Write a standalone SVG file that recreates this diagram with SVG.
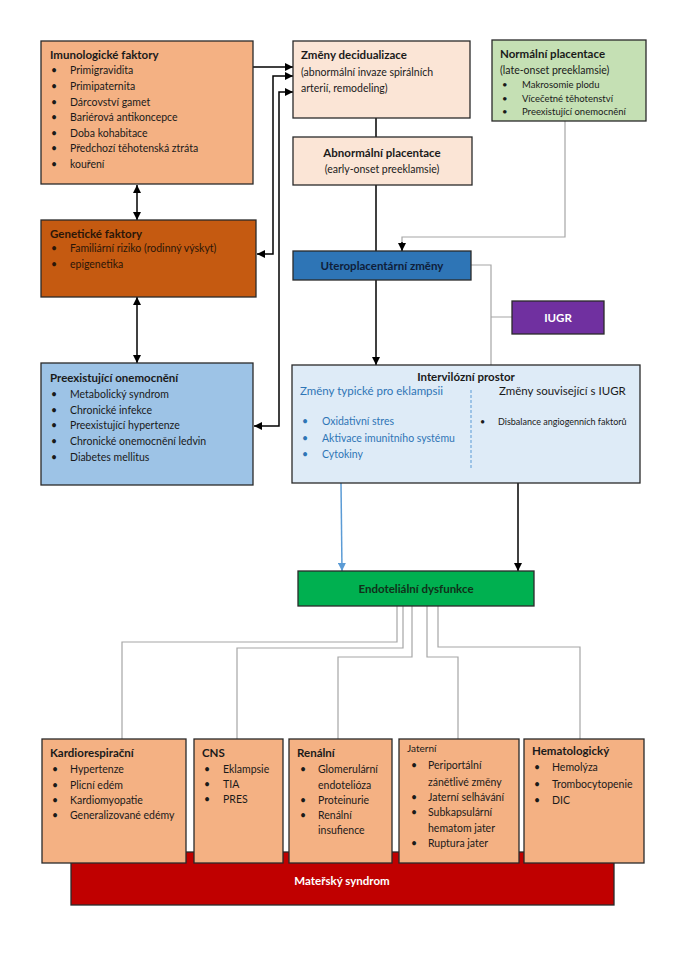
<svg xmlns="http://www.w3.org/2000/svg" width="679" height="960" viewBox="0 0 679 960">
<style>
text{font-family:Lato,"Open Sans","Liberation Sans",sans-serif;font-size:10.5px;fill:#1a1a1a}
.t{font-weight:bold;font-size:11.5px}
.box{stroke:#2a2a2a;stroke-width:1.3}
.ar{fill:none;stroke:#000;stroke-width:1.5}
.gr{fill:none;stroke:#a6a6a6;stroke-width:1.2}
.c{text-anchor:middle}
.s{font-size:9.5px}
</style>
<defs>
<marker id="a" viewBox="0 0 10 10" refX="10" refY="5" markerWidth="8" markerHeight="8" markerUnits="userSpaceOnUse" orient="auto-start-reverse"><path d="M0,0L10,5L0,10z" fill="#000"/></marker>
<marker id="ab" viewBox="0 0 10 10" refX="10" refY="5" markerWidth="8" markerHeight="8" markerUnits="userSpaceOnUse" orient="auto"><path d="M0,0L10,5L0,10z" fill="#5B9BD5"/></marker>
</defs>
<rect width="679" height="960" fill="#fff"/>

<g id="connectors">
<line class="ar" x1="253" y1="67" x2="293" y2="67" marker-end="url(#a)"/>
<path class="ar" d="M257,254H273V76H293" marker-start="url(#a)" marker-end="url(#a)"/>
<path class="ar" d="M254,426H279V92H293" marker-start="url(#a)" marker-end="url(#a)"/>
<line class="ar" x1="137" y1="185" x2="137" y2="220" marker-start="url(#a)" marker-end="url(#a)"/>
<line class="ar" x1="137" y1="297" x2="137" y2="363" marker-start="url(#a)" marker-end="url(#a)"/>
<line class="ar" x1="376" y1="118" x2="376" y2="137"/>
<line class="ar" x1="376" y1="185" x2="376" y2="251"/>
<path class="gr" d="M565,121V237H402V243"/>
<line class="ar" x1="402" y1="242" x2="402" y2="251" marker-end="url(#a)"/>
<line class="ar" x1="376" y1="280" x2="376" y2="365" marker-end="url(#a)"/>
<path class="gr" d="M471,265H491V365M491,317H512"/>
<line x1="341" y1="483" x2="342" y2="571" stroke="#5B9BD5" stroke-width="1.5" marker-end="url(#ab)"/>
<line class="ar" x1="518" y1="483" x2="518" y2="571" marker-end="url(#a)"/>
<path class="gr" d="M397,606V642H122V739"/>
<path class="gr" d="M403,606V648H237V739"/>
<path class="gr" d="M412,606V657H338V739"/>
<path class="gr" d="M427,606V657H458V739"/>
<path class="gr" d="M438,606V647H580V739"/>
</g>

<g id="imunologicke">
<rect class="box" x="41" y="41" width="212" height="143" fill="#F4B183"/>
<text class="t" x="50" y="59">Imunologické faktory</text>
<text x="51" y="74">•</text><text x="70" y="74">Primigravidita</text>
<text x="51" y="90">•</text><text x="70" y="90">Primipaternita</text>
<text x="51" y="106">•</text><text x="70" y="106">Dárcovství gamet</text>
<text x="51" y="121">•</text><text x="70" y="121">Bariérová antikoncepce</text>
<text x="51" y="137">•</text><text x="70" y="137">Doba kohabitace</text>
<text x="51" y="152">•</text><text x="70" y="152">Předchozí těhotenská ztráta</text>
<text x="51" y="168">•</text><text x="70" y="168">kouření</text>
</g>

<g id="geneticke">
<rect class="box" x="41" y="220" width="215" height="77" fill="#C55A11"/>
<text class="t" x="50" y="238" style="fill:#2b1608">Genetické faktory</text>
<text x="51" y="252" style="fill:#2b1608">•</text><text x="70" y="252" style="fill:#2b1608">Familiární riziko (rodinný výskyt)</text>
<text x="51" y="268" style="fill:#2b1608">•</text><text x="70" y="268" style="fill:#2b1608">epigenetika</text>
</g>

<g id="preexistujici">
<rect class="box" x="41" y="363" width="212" height="122" fill="#9DC3E6"/>
<text class="t" x="50" y="382">Preexistující onemocnění</text>
<text x="51" y="398">•</text><text x="70" y="398">Metabolický syndrom</text>
<text x="51" y="414">•</text><text x="70" y="414">Chronické infekce</text>
<text x="51" y="429">•</text><text x="70" y="429">Preexistující hypertenze</text>
<text x="51" y="445">•</text><text x="70" y="445">Chronické onemocnění ledvin</text>
<text x="51" y="461">•</text><text x="70" y="461">Diabetes mellitus</text>
</g>

<g id="decidualizace">
<rect class="box" x="293" y="41" width="177" height="77" fill="#FBE5D6"/>
<text class="t" x="301" y="59">Změny decidualizace</text>
<text x="301" y="76">(abnormální invaze spirálních</text>
<text x="301" y="92">arterií, remodeling)</text>
</g>

<g id="abnormalni">
<rect class="box" x="293" y="137" width="179" height="48" fill="#FBE5D6"/>
<text class="t c" x="382" y="157">Abnormální placentace</text>
<text class="c" x="382" y="173">(early-onset preeklamsie)</text>
</g>

<g id="normalni">
<rect class="box" x="492" y="40" width="154" height="81" fill="#C5E0B4"/>
<text class="t" x="500" y="58">Normální placentace</text>
<text x="500" y="74">(late-onset preeklamsie)</text>
<text class="s" x="502" y="88">•</text><text class="s" x="522" y="88">Makrosomie plodu</text>
<text class="s" x="502" y="102">•</text><text class="s" x="522" y="102">Vícečetné těhotenství</text>
<text class="s" x="502" y="115">•</text><text class="s" x="522" y="115">Preexistující onemocnění</text>
</g>

<g id="uteroplacentarni">
<rect class="box" x="293" y="251" width="178" height="29" fill="#2E75B6"/>
<text class="t c" x="382" y="270" style="fill:#0f1e3a">Uteroplacentární změny</text>
</g>

<g id="iugr">
<rect class="box" x="512" y="301" width="92" height="33" fill="#7030A0"/>
<text class="t c" x="558" y="322" style="fill:#fff">IUGR</text>
</g>

<g id="intervilozni">
<rect class="box" x="292" y="365" width="348" height="118" fill="#DEEBF7"/>
<text class="t c" x="466" y="381">Intervilózní prostor</text>
<text x="300" y="395" style="font-size:11.5px;fill:#2E75B6">Změny typické pro eklampsii</text>
<text x="499" y="395" style="font-size:11.5px">Změny související s IUGR</text>
<line x1="471" y1="390" x2="471" y2="470" stroke="#5B9BD5" stroke-width="1" stroke-dasharray="3,2"/>
<text x="302" y="425" style="fill:#2E75B6">•</text><text x="322" y="425" style="fill:#2E75B6">Oxidativní stres</text>
<text x="302" y="442" style="fill:#2E75B6">•</text><text x="322" y="442" style="fill:#2E75B6">Aktivace imunitního systému</text>
<text x="302" y="458" style="fill:#2E75B6">•</text><text x="322" y="458" style="fill:#2E75B6">Cytokiny</text>
<text x="480" y="425" style="font-size:9px">•</text><text x="498" y="425" style="font-size:9px">Disbalance angiogenních faktorů</text>
</g>

<g id="endotelialni">
<rect class="box" x="298" y="571" width="236" height="35" fill="#00B050"/>
<text class="t c" x="416" y="593" style="fill:#10301a">Endoteliální dysfunkce</text>
</g>

<g id="materinsky">
<rect class="box" x="71" y="852" width="543" height="53" fill="#C00000"/>
<text class="t c" x="342" y="885" style="fill:#fff">Mateřský syndrom</text>
</g>

<g id="kardio">
<rect class="box" x="42" y="739" width="144" height="124" fill="#F4B183"/>
<text class="t" x="50" y="757">Kardiorespirační</text>
<text x="52" y="773">•</text><text x="70" y="773">Hypertenze</text>
<text x="52" y="789">•</text><text x="70" y="789">Plicní edém</text>
<text x="52" y="804">•</text><text x="70" y="804">Kardiomyopatie</text>
<text x="52" y="819">•</text><text x="70" y="819">Generalizované edémy</text>
</g>

<g id="cns">
<rect class="box" x="194" y="739" width="89" height="124" fill="#F4B183"/>
<text class="t" x="202" y="757">CNS</text>
<text x="204" y="773">•</text><text x="223" y="773">Eklampsie</text>
<text x="204" y="788">•</text><text x="223" y="788">TIA</text>
<text x="204" y="803">•</text><text x="223" y="803">PRES</text>
</g>

<g id="renalni">
<rect class="box" x="289" y="739" width="103" height="124" fill="#F4B183"/>
<text class="t" x="297" y="757">Renální</text>
<text x="300" y="773">•</text><text x="318" y="773">Glomerulární</text>
<text x="318" y="789">endotelióza</text>
<text x="300" y="804">•</text><text x="318" y="804">Proteinurie</text>
<text x="300" y="819">•</text><text x="318" y="819">Renální</text>
<text x="318" y="834">insufience</text>
</g>

<g id="jaterni">
<rect class="box" x="399" y="739" width="120" height="124" fill="#F4B183"/>
<text x="407" y="752" style="font-size:10px">Jaterní</text>
<text x="411" y="769">•</text><text x="428" y="769">Periportální</text>
<text x="428" y="786">zánětlivé změny</text>
<text x="411" y="801">•</text><text x="428" y="801">Jaterní selhávání</text>
<text x="411" y="816">•</text><text x="428" y="816">Subkapsulární</text>
<text x="428" y="832">hematom jater</text>
<text x="411" y="847">•</text><text x="428" y="847">Ruptura jater</text>
</g>

<g id="hematologicky">
<rect class="box" x="524" y="739" width="120" height="124" fill="#F4B183"/>
<text class="t" x="532" y="755">Hematologický</text>
<text x="534" y="771">•</text><text x="552" y="771">Hemolýza</text>
<text x="534" y="788">•</text><text x="552" y="788">Trombocytopenie</text>
<text x="534" y="804">•</text><text x="552" y="804">DIC</text>
</g>
</svg>
